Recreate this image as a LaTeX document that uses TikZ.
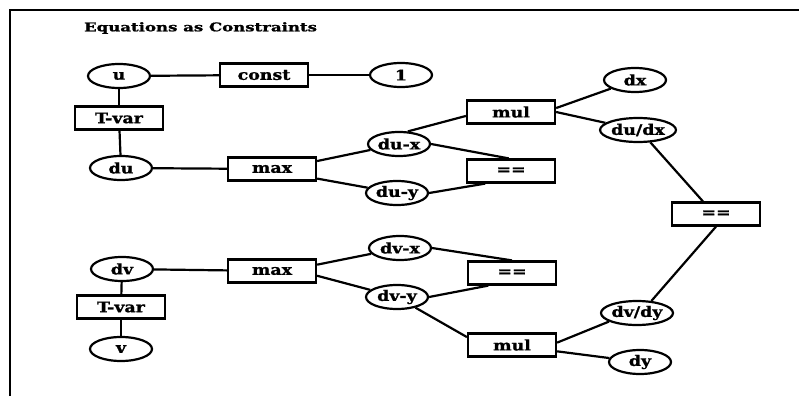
\documentclass[tikz,border=0pt]{standalone}
\usepackage{fontspec}
\usepackage{graphicx}
\usetikzlibrary{shapes.geometric}
\newfontfamily\diagfont{DejaVu Serif}[BoldFeatures={FakeBold=1.2}]
\newcommand\nlab[1]{\scalebox{1.2}[1]{#1}}
\newcommand\tlab[1]{\scalebox{1.38}[1]{#1}}
\begin{document}
\begin{tikzpicture}[x=1pt,y=-1pt,
  every node/.style={font=\diagfont\bfseries\fontsize{14.5}{14.5}\selectfont, inner sep=0pt, line width=2.2pt},
  var/.style={draw, ellipse, minimum width=62pt, minimum height=24pt},
  op/.style={draw, rectangle, minimum width=88pt, minimum height=23pt},
  link/.style={line width=2.2pt}]
\useasboundingbox (0,0) rectangle (799,396);
\draw[line width=2.2pt] (10,396) coordinate (fbl) -- (10,10) coordinate (ftl) -- (799,10) coordinate (ftr);
\node[anchor=west, font=\diagfont\bfseries\fontsize{12}{12}\selectfont] (title) at (83,28) {\tlab{Equations as Constraints}};
% upper part
\node[var] (u) at (119,76) {\nlab{u}};
\node[op] (const) at (264,75) {\nlab{const}};
\node[var] (one) at (401,75) {\nlab{1}};
\node[op] (tv1) at (119,118) {\nlab{T-var}};
\node[var] (du) at (121,168) {\nlab{du}};
\node[op] (max1) at (272,169) {\nlab{max}};
\node[var] (dux) at (399,144) {\nlab{du-x}};
\node[var] (duy) at (397,193) {\nlab{du-y}};
\node[op] (mul1) at (511,112) {\nlab{mul}};
\node[op] (eqa) at (511,171) {\nlab{==}};
\node[var] (dx) at (635,80) {\nlab{dx}};
\node[var] (dudx) at (638,130) {\nlab{du/dx}};
\node[op] (eqr) at (716,214) {\nlab{==}};
% lower part
\node[var] (dv) at (122,269) {\nlab{dv}};
\node[op] (tv2) at (121,307) {\nlab{T-var}};
\node[var] (v) at (121,349) {\nlab{v}};
\node[op] (max2) at (272,271) {\nlab{max}};
\node[var] (dvx) at (400,248) {\nlab{dv-x}};
\node[var] (dvy) at (397,297) {\nlab{dv-y}};
\node[op] (eql) at (512,273) {\nlab{==}};
\node[op] (mul2) at (512,345) {\nlab{mul}};
\node[var] (dvdy) at (637,313) {\nlab{dv/dy}};
\node[var] (dy) at (640,362) {\nlab{dy}};
% connectors
\draw[link] (u) -- (const);
\draw[link] (const) -- (one);
\draw[link] (u) -- (tv1);
\draw[link] (tv1) -- (du);
\draw[link] (du) -- (max1);
\draw[link] (max1.10) -- (dux);
\draw[link] (max1.-12) -- (duy);
\draw[link] (dux.55) -- (mul1.185);
\draw[link] (dux.east) -- (eqa.100);
\draw[link] (duy.east) -- (eqa.206);
\draw[link] (mul1.5) -- (dx);
\draw[link] (mul1.east) -- (dudx);
\draw[link] (dudx.-45) -- (eqr.136);
\draw[link] (eqr.south) -- (dvdy.40);
\draw[link] (dvdy.197) -- (mul2.3);
\draw[link] (mul2.-8) -- (dy);
\draw[link] (dvy.-30) -- (mul2.170);
\draw[link] (dvy.east) -- (eql.208);
\draw[link] (dvx.east) -- (eql.north);
\draw[link] (max2.8) -- (dvx);
\draw[link] (max2.-6) -- (dvy);
\draw[link] (dv) -- (max2);
\draw[link] (dv) -- (tv2);
\draw[link] (tv2) -- (v);
\end{tikzpicture}
\end{document}
